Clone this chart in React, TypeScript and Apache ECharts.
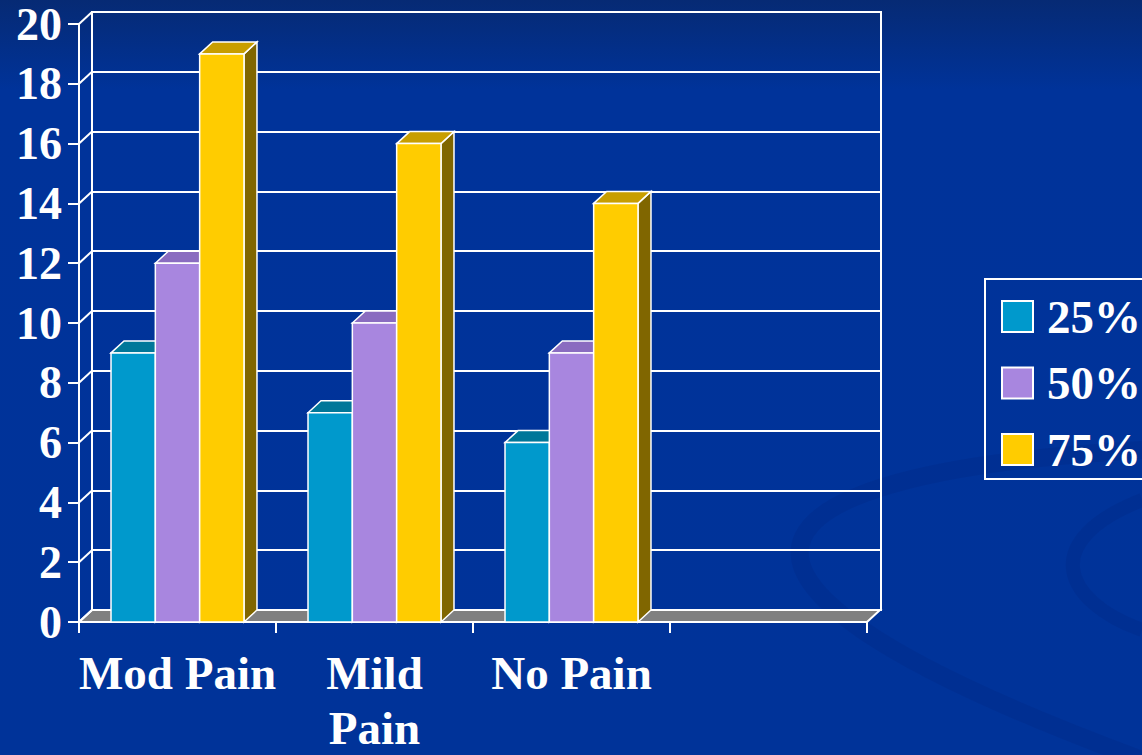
import React, { useEffect, useRef } from "react";
import * as echarts from "echarts";

const categories = ["Mod Pain", "Mild\nPain", "No Pain", ""];
const seriesNames = ["25%", "50%", "75%"];
const values25 = [9, 7, 6];
const values50 = [12, 10, 9];
const values75 = [19, 16, 14];
const yTicks = [0, 2, 4, 6, 8, 10, 12, 14, 16, 18, 20];

const FRONT = ["#0099cc", "#a886df", "#ffcc00"];
const TOP = ["#007799", "#8a6cc0", "#c89e00"];
const SIDE = ["#005570", "#5c4785", "#806600"];
const DX = 13;
const DY = -12;
const FONT = "'Liberation Serif', 'Times New Roman', serif";

function barRender(idx: number) {
  return (params: any, api: any) => {
    const cat = api.value(0);
    const v = api.value(1);
    const [cx, yTop] = api.coord([cat, v]);
    const y0 = api.coord([cat, 0])[1];
    const cw = api.size([1, 0])[0];
    const w = cw * 0.225;
    const x0 = cx - 1.5 * w + idx * w;
    const x1 = x0 + w;
    const st = (fill: string) => ({ fill, stroke: "#ffffff", lineWidth: 1.5 });
    return {
      type: "group",
      children: [
        {
          type: "polygon",
          shape: { points: [[x1, y0], [x1 + DX, y0 + DY], [x1 + DX, yTop + DY], [x1, yTop]] },
          style: st(SIDE[idx]),
        },
        {
          type: "polygon",
          shape: { points: [[x0, yTop], [x0 + DX, yTop + DY], [x1 + DX, yTop + DY], [x1, yTop]] },
          style: st(TOP[idx]),
        },
        {
          type: "rect",
          shape: { x: x0, y: yTop, width: w, height: y0 - yTop },
          style: st(FRONT[idx]),
        },
      ],
    };
  };
}

export default function App() {
  const ref = useRef<HTMLDivElement>(null);
  useEffect(() => {
    if (!ref.current) return;
    const chart = echarts.init(ref.current, undefined, { renderer: "svg" });
    const allValues = [values25, values50, values75];
    const option: any = {
      animation: false,
      backgroundColor: {
        type: "linear",
        x: 0, y: 0, x2: 0, y2: 1,
        colorStops: [
          { offset: 0, color: "#062a74" },
          { offset: 0.12, color: "#00339a" },
          { offset: 1, color: "#003399" },
        ],
      },
      graphic: [
        {
          type: "bezierCurve",
          z: -10,
          silent: true,
          shape: { x1: 1142, y1: 450, cpx1: 780, cpy1: 470, cpx2: 600, cpy2: 560, x2: 1142, y2: 760 },
          style: { stroke: "rgba(0,25,100,0.12)", lineWidth: 18, fill: "none" },
        },
        {
          type: "bezierCurve",
          z: -10,
          silent: true,
          shape: { x1: 1142, y1: 500, cpx1: 1040, cpy1: 540, cpx2: 1060, cpy2: 600, x2: 1142, y2: 630 },
          style: { stroke: "rgba(0,25,100,0.12)", lineWidth: 14, fill: "none" },
        },
      ],
      legend: {
        data: seriesNames,
        orient: "vertical",
        left: 985,
        top: 279,
        padding: [14, 30, 6, 16],
        itemGap: 19.5,
        itemWidth: 31,
        itemHeight: 31,
        borderColor: "#ffffff",
        borderWidth: 2,
        icon: "rect",
        itemStyle: { borderColor: "#ffffff", borderWidth: 2 },
        textStyle: {
          color: "#ffffff",
          fontFamily: FONT,
          fontWeight: "bold",
          fontSize: 47,
          lineHeight: 46,
          padding: [0, 0, 0, 9],
        },
      },
      grid: [
        { left: 79, right: 275, top: 24, bottom: 133, outerBoundsMode: "none", containLabel: false },
        {
          left: 92, right: 261, top: 12, bottom: 145,
          outerBoundsMode: "none", containLabel: false,
          show: true, borderColor: "#ffffff", borderWidth: 2, backgroundColor: "transparent",
        },
      ],
      xAxis: [
        {
          type: "category",
          gridIndex: 0,
          data: categories,
          axisLine: { show: true, lineStyle: { color: "#ffffff", width: 2 } },
          axisTick: { show: true, length: 11, lineStyle: { color: "#ffffff", width: 2 } },
          axisLabel: {
            interval: 0,
            color: "#ffffff",
            fontFamily: FONT,
            fontWeight: "bold",
            fontSize: 47,
            lineHeight: 55,
            margin: 23,
          },
          splitLine: { show: false },
        },
        { type: "value", gridIndex: 1, min: 0, max: 1, show: false },
      ],
      yAxis: [
        {
          type: "value",
          gridIndex: 0,
          min: 0,
          max: 20,
          interval: 2,
          axisLine: { show: true, lineStyle: { color: "#ffffff", width: 2 } },
          axisTick: { show: true, length: 11, lineStyle: { color: "#ffffff", width: 2 } },
          axisLabel: {
            color: "#ffffff",
            fontFamily: FONT,
            fontWeight: "bold",
            fontSize: 46,
            margin: 17,
          },
          splitLine: { show: false },
        },
        {
          type: "value",
          gridIndex: 1,
          min: 0,
          max: 20,
          interval: 2,
          axisLine: { show: false },
          axisTick: { show: false },
          axisLabel: { show: false },
          splitLine: { show: true, lineStyle: { color: "#ffffff", width: 2 } },
        },
      ],
      series: [
        {
          type: "custom",
          name: "floor",
          xAxisIndex: 0,
          yAxisIndex: 0,
          z: 1,
          silent: true,
          data: [[0, 0]],
          renderItem: (params: any) => {
            const cs = params.coordSys;
            const x0 = cs.x;
            const x1 = cs.x + cs.width;
            const y = cs.y + cs.height;
            return {
              type: "polygon",
              shape: { points: [[x0, y], [x1, y], [x1 + DX, y + DY], [x0 + DX, y + DY]] },
              style: { fill: "#808080", stroke: "#ffffff", lineWidth: 2 },
            };
          },
        },
        {
          type: "custom",
          name: "wall",
          xAxisIndex: 0,
          yAxisIndex: 0,
          z: 1,
          silent: true,
          data: yTicks.map((v) => [0, v]),
          renderItem: (params: any, api: any) => {
            const y = api.coord([0, api.value(1)])[1];
            const x0 = params.coordSys.x;
            return {
              type: "line",
              shape: { x1: x0, y1: y, x2: x0 + DX, y2: y + DY },
              style: { stroke: "#ffffff", lineWidth: 2 },
            };
          },
        },
        ...seriesNames.map((name, idx) => ({
          type: "custom",
          name,
          xAxisIndex: 0,
          yAxisIndex: 0,
          z: 3 + idx,
          itemStyle: { color: FRONT[idx] },
          data: allValues[idx].map((v, i) => [i, v]),
          renderItem: barRender(idx),
        })),
      ],
    };
    chart.setOption(option);
    return () => chart.dispose();
  }, []);
  return (
    <div
      ref={ref}
      style={{ position: "fixed", left: 0, top: 0, width: 1142, height: 755 }}
    />
  );
}
